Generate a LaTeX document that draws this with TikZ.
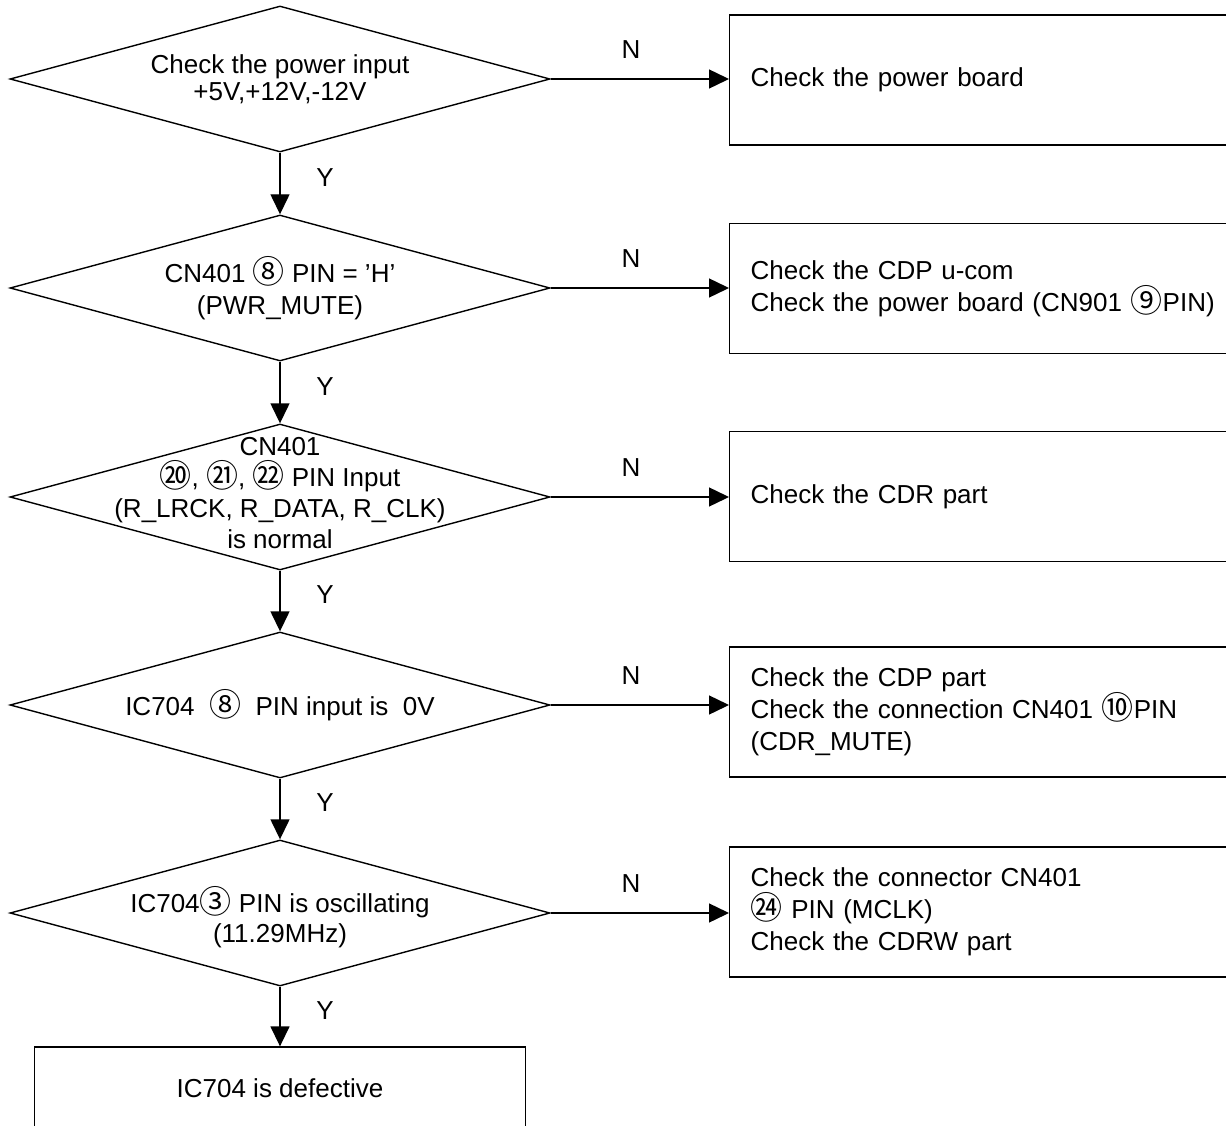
\documentclass[tikz,border=0pt]{standalone}
\usepackage{fontspec}
\setmainfont{Liberation Sans}
\newfontfamily\cjk{Noto Sans CJK SC}
\newcommand{\cnum}[1]{\raisebox{-1.2pt}{\cjk\fontsize{32}{32}\selectfont #1}}
\usetikzlibrary{shapes.geometric,arrows.meta}
\begin{document}
\begin{tikzpicture}[x=1pt,y=-1pt,
  txt/.style={font=\fontsize{26}{32}\selectfont, text=black},
  dec/.style={draw, line width=1.4pt, diamond, minimum width=540pt, minimum height=146pt, inner sep=0pt},
  dtext/.style={txt, align=center, inner sep=0pt},
  rbox/.style={draw, line width=1.3pt, txt, anchor=west, text width=488pt, inner xsep=21pt, minimum height=130pt, align=left},
  endbox/.style={draw, line width=1.3pt, txt, minimum width=491pt, minimum height=82pt, inner sep=0pt},
  arr/.style={line width=1.4pt, -{Triangle[length=20pt,width=19pt]}},
  ylab/.style={txt, pos=0.4, xshift=45pt, anchor=center},
  nlab/.style={txt, pos=0.45, yshift=29pt, anchor=center}
]
\useasboundingbox (0,0) rectangle (1226,1126);
\clip (0,0) rectangle (1226,1126);

% decisions
\node[dec] (d1) at (280,79) {};
\node[dec] (d2) at (280,288) {};
\node[dec] (d3) at (280,497) {};
\node[dec] (d4) at (280,705) {};
\node[dec] (d5) at (280,913) {};

\node[dtext, font=\fontsize{26}{27}\selectfont] (t1) at (d1) {Check the power input\\+5V,+12V,-12V};
\node[dtext] (t2) at (d2) {CN401 \cnum{⑧} PIN = ’H’\\(PWR\_MUTE)};
\node[dtext, font=\fontsize{26}{31}\selectfont, yshift=4pt] (t3) at (d3) {CN401\\\cnum{⑳}, \cnum{㉑}, \cnum{㉒} PIN Input\\(R\_LRCK, R\_DATA, R\_CLK)\\is normal};
\node[dtext] (t4) at (d4) {IC704 \ \cnum{⑧} \ PIN input is \ 0V};
\node[dtext, font=\fontsize{26}{30}\selectfont, yshift=-4pt] (t5) at (d5) {IC704\cnum{③} PIN is oscillating\\(11.29MHz)};

% right boxes
\node[rbox] (b1) at (729,80) {Check the power board};
\node[rbox] (b2) at (729,288.5) {Check the CDP u-com\\Check the power board (CN901 \cnum{⑨}PIN)};
\node[rbox] (b3) at (729,496.5) {Check the CDR part};
\node[rbox] (b4) at (729,712) {Check the CDP part\\Check the connection CN401 \cnum{⑩}PIN\\(CDR\_MUTE)};
\node[rbox] (b5) at (729,912) {Check the connector CN401\\\cnum{㉔} PIN (MCLK)\\Check the CDRW part};

% final box
\node[endbox] (e) at (280,1088) {IC704 is defective};

% Y arrows
\draw[arr] (d1.south) -- node[ylab]{Y} (d2.north);
\draw[arr] (d2.south) -- node[ylab]{Y} (d3.north);
\draw[arr] (d3.south) -- node[ylab]{Y} (d4.north);
\draw[arr] (d4.south) -- node[ylab]{Y} (d5.north);
\draw[arr] (d5.south) -- node[ylab]{Y} (e.north);

% N arrows
\draw[arr] (d1.east) -- node[nlab]{N} (d1.east -| b1.west);
\draw[arr] (d2.east) -- node[nlab]{N} (d2.east -| b2.west);
\draw[arr] (d3.east) -- node[nlab]{N} (d3.east -| b3.west);
\draw[arr] (d4.east) -- node[nlab]{N} (d4.east -| b4.west);
\draw[arr] (d5.east) -- node[nlab]{N} (d5.east -| b5.west);
\end{tikzpicture}
\end{document}
